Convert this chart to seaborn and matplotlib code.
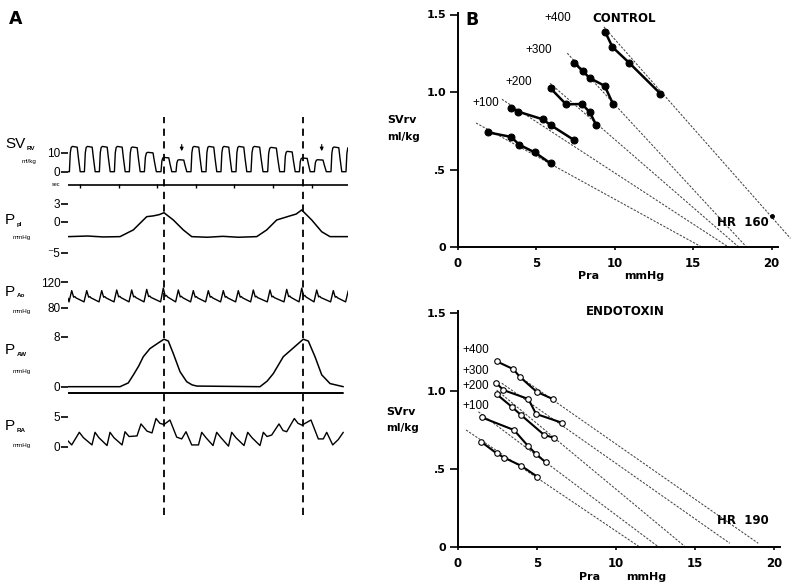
import matplotlib
matplotlib.use("Agg")
import matplotlib.pyplot as plt
import seaborn as sns

sns.set_theme(style="ticks")
plt.rcParams['font.family'] = ['Liberation Sans', 'DejaVu Sans']
plt.rcParams.update({"text.color": "black", "axes.labelcolor": "black",
                     "xtick.color": "black", "ytick.color": "black",
                     "axes.edgecolor": "black"})

# ------------------------------------------------------------------
# Panel A data (time in seconds, physical units)
# ------------------------------------------------------------------
T0, T1 = -0.311, 6.943
insp_t = [2.176, 5.777]                 # dashed lines (peak inspiration)
sec_ticks = [0, 1, 2, 3, 4, 5, 6]
sv_arrow_t = [2.635, 6.262]

beat_t = [-0.215, 0.174, 0.562, 0.951, 1.339, 1.728, 2.158, 2.547, 2.935,
          3.324, 3.712, 4.101, 4.490, 4.922, 5.355, 5.744, 6.132, 6.562, 6.951]
sv_top = [13.3, 13.3, 13.3, 13.3, 13.0, 10.2, 7.5, 6.3, 13.3, 13.3,
          13.3, 13.3, 13.3, 12.8, 10.7, 7.2, 6.3, 13.0, 13.0]
ao_peak = [107, 107, 107, 108, 108, 109, 111, 108, 107, 107,
           107, 107, 108, 108, 109, 111, 108, 107, 107]
ao_trough = 89

ppl_t = [-0.311, 0.2, 0.6, 1.036, 1.381, 1.728, 1.899, 2.05, 2.176, 2.417,
         2.676, 2.894, 3.3, 3.7, 4.1, 4.578, 4.837, 5.096, 5.44, 5.6,
         5.744, 6.003, 6.262, 6.477, 6.943]
ppl_v = [-2.4, -2.3, -2.45, -2.4, -1.3, 0.87, 1.0, 1.2, 1.52, 0.33,
         -1.3, -2.4, -2.5, -2.35, -2.5, -2.4, -1.3, 0.33, 1.0, 1.3,
         1.97, 0.33, -1.6, -2.4, -2.4]

aw_t = [-0.311, 1.036, 1.25, 1.381, 1.52, 1.640, 1.813, 2.028, 2.176, 2.288,
        2.417, 2.591, 2.764, 2.9, 3.023, 4.663, 4.85, 5.008, 5.267, 5.526,
        5.785, 5.915, 6.088, 6.262, 6.477, 6.821]
aw_v = [0.0, 0.0, 0.6, 1.87, 3.3, 4.8, 6.1, 7.0, 7.6, 7.3,
        5.3, 2.4, 0.8, 0.3, 0.1, 0.0, 0.9, 2.1, 4.8, 6.2,
        7.6, 7.3, 4.8, 1.9, 0.5, 0.0]
aw_ref = -0.96

ra_t = [-0.345, -0.215, -0.018, 0.09, 0.31, 0.389, 0.49, 0.70, 0.777, 0.88,
        1.09, 1.166, 1.27, 1.477, 1.58, 1.736, 1.865, 1.969, 2.07, 2.176,
        2.33, 2.505, 2.635, 2.746, 2.894, 3.07, 3.153, 3.264, 3.446, 3.541,
        3.653, 3.847, 3.93, 4.04, 4.249, 4.345, 4.456, 4.663, 4.749, 4.845,
        4.966, 5.155, 5.259, 5.355, 5.552, 5.648, 5.751, 5.984, 6.174, 6.303,
        6.391, 6.547, 6.692, 6.821]
ra_v = [1.2, 0.3, 2.4, 1.5, 0.3, 2.4, 1.5, 0.2, 2.4, 1.5,
        0.3, 2.5, 1.7, 1.8, 3.8, 2.6, 2.3, 4.7, 3.9, 3.7,
        4.45, 1.6, 1.3, 2.5, 0.3, 0.3, 2.4, 1.5, 0.2, 2.4,
        1.5, 0.1, 2.4, 1.5, 0.2, 2.4, 1.5, 0.2, 2.4, 1.7,
        1.95, 3.8, 2.7, 2.5, 4.7, 3.9, 3.6, 4.45, 1.3, 1.3,
        2.4, 0.3, 1.2, 2.4]

# ------------------------------------------------------------------
# Panel B data (Pra mmHg, SVrv ml/kg)
# ------------------------------------------------------------------
ctl_labels = ["", "+100", "+200", "+300", "+400"]
ctl_x = [[1.9, 3.4, 3.9, 4.9, 5.9],
         [3.4, 3.85, 5.4, 5.9, 7.4],
         [5.9, 6.9, 7.9, 8.4, 8.8],
         [7.4, 7.95, 8.4, 9.35, 9.9],
         [9.4, 9.85, 10.9, 12.9]]
ctl_y = [[0.74, 0.71, 0.66, 0.61, 0.54],
         [0.895, 0.873, 0.824, 0.787, 0.69],
         [1.024, 0.92, 0.923, 0.87, 0.79],
         [1.19, 1.135, 1.09, 1.04, 0.92],
         [1.385, 1.29, 1.19, 0.99]]
ctl_fit_x = [[1.15, 15.54], [2.8, 17.24], [5.87, 17.9], [6.97, 18.4], [9.3, 21.2]]
ctl_fit_y = [[0.80, 0.0], [0.953, 0.0], [1.056, 0.0], [1.25, 0.0], [1.42, 0.056]]
ctl_hr_pt = (20.0, 0.2)

end_x = [[1.46, 2.45, 2.93, 3.99, 5.02],
         [1.5, 3.54, 4.41, 4.94, 5.55],
         [2.45, 3.4, 3.99, 5.46, 6.08],
         [2.4, 2.87, 4.45, 4.94, 6.56],
         [2.45, 3.5, 3.92, 4.98, 6.03]]
end_y = [[0.675, 0.60, 0.572, 0.521, 0.451],
         [0.831, 0.75, 0.65, 0.596, 0.543],
         [0.979, 0.899, 0.846, 0.718, 0.70],
         [1.053, 1.006, 0.949, 0.853, 0.797],
         [1.19, 1.14, 1.09, 0.995, 0.947]]
end_fit_x = [[0.51, 11.5], [1.29, 12.7], [2.45, 14.4], [2.77, 17.2], [3.92, 19.0]]
end_fit_y = [[0.75, 0.0], [0.867, 0.0], [1.006, 0.0], [1.05, 0.024], [1.09, 0.024]]

b_xticks = [0, 5, 10, 15, 20]
b_yticks = [0, 0.5, 1.0, 1.5]
b_yticklabels = ["0", ".5", "1.0", "1.5"]

# ------------------------------------------------------------------
W, H = 800, 587
fig = plt.figure(figsize=(W / 100, H / 100), dpi=100)


def px_axes(x0, y0, x1, y1):
    return fig.add_axes([x0 / W, 1 - y1 / H, (x1 - x0) / W, (y1 - y0) / H])


def ftext(x, y, s, **kw):
    kw.setdefault("va", "center")
    fig.text(x / W, 1 - y / H, s, **kw)


# waveform builders (shape = drawing style, beat times / amplitudes = data)
SV_F = [0, 0.06, 0.12, 0.2, 0.52, 0.6, 0.72]
SV_K = [0, 0.75, 0.96, 1.0, 0.97, 0.55, 0.0]


def sv_trace():
    t, v = [T0], [0.0]
    for i, (tp, top) in enumerate(zip(beat_t, sv_top)):
        per = (beat_t[i + 1] - tp) if i + 1 < len(beat_t) else 0.39
        on = tp - 0.06
        for f, k in zip(SV_F, SV_K):
            t.append(on + f * per)
            v.append(k * top)
    return t, v


def ao_trace():
    t, v = [T0], [95.0]
    for tp, pk in zip(beat_t, ao_peak):
        amp = pk - ao_trough
        t += [tp - 0.07, tp, tp + 0.05, tp + 0.08, tp + 0.11]
        v += [ao_trough, pk, ao_trough + 0.42 * amp, ao_trough + 0.47 * amp,
              ao_trough + 0.36 * amp]
    return t, v


def trace_axes(y0, y1, ylo, yhi, ticks, ticklabels):
    ax = px_axes(68, y0, 348, y1)
    ax.set_xlim(T0, T1)
    ax.set_ylim(ylo, yhi)
    for s in ax.spines.values():
        s.set_visible(False)
    ax.set_xticks([])
    ax.set_yticks(ticks)
    ax.set_yticklabels(ticklabels)
    ax.tick_params(axis="y", direction="out", length=5, width=1.2, pad=0.5,
                   labelsize=8.5, colors="black")
    ax.set_facecolor("none")
    ax.set_xlabel("")
    ax.set_ylabel("")
    return ax


def draw_line(ax, x, y, **kw):
    kw.setdefault("color", "black")
    sns.lineplot(x=x, y=y, ax=ax, sort=False, estimator=None, legend=False,
                 **kw)


# ---------------- Panel A ----------------
ax_sv = trace_axes(140, 176, -2.26, 16.68, [0, 10], ["0", "10"])
st, sv = sv_trace()
draw_line(ax_sv, st, sv, lw=1.0)
for ta in sv_arrow_t:
    ax_sv.annotate("", xy=(ta, 10.8), xytext=(ta, 14.3),
                   arrowprops=dict(arrowstyle="-|>", color="black", lw=0.8,
                                   mutation_scale=5, shrinkA=0, shrinkB=0))

ax_sec = px_axes(68, 180, 348, 190)
ax_sec.set_xlim(T0, T1)
ax_sec.set_ylim(-1, 1)
ax_sec.axis("off")
draw_line(ax_sec, [T0, T1], [0, 0], lw=1.2)
ax_sec.plot(sec_ticks, [-0.25] * len(sec_ticks), ls="none", marker="|",
            ms=3, mew=1.0, color="black")

ax_pl = trace_axes(198, 258, -5.9, 3.93, [-5, 0, 3], ["\u207b5", "0", "3"])
draw_line(ax_pl, ppl_t, ppl_v, lw=1.1)

ax_ao = trace_axes(276, 312, 72.8, 130.4, [80, 120], ["80", "120"])
at, av = ao_trace()
draw_line(ax_ao, at, av, lw=1.0)

ax_aw = trace_axes(330, 396, -1.49, 9.07, [0, 8], ["0", "8"])
draw_line(ax_aw, aw_t, aw_v, lw=1.1)
draw_line(ax_aw, [T0, aw_t[-1]], [aw_ref, aw_ref], lw=1.4)

ax_ra = trace_axes(410, 452, -0.88, 6.12, [0, 5], ["0", "5"])
draw_line(ax_ra, ra_t, ra_v, lw=1.0)

ax_ov = px_axes(68, 110, 348, 525)
ax_ov.set_xlim(T0, T1)
ax_ov.set_ylim(0, 1)
ax_ov.axis("off")
for ti in insp_t:
    ax_ov.axvline(ti, ymin=0.024, ymax=0.983, color="black", lw=1.3,
                  dashes=(4, 3))

# Panel A labels
ftext(9, 19, "A", fontsize=12.5, fontweight="bold", family="DejaVu Sans")
ftext(5, 144, "SV", fontsize=11)
ftext(27, 148, "RV", fontsize=4.5, fontweight="bold")
ftext(22, 162, "ml/kg", fontsize=4.5)
ftext(52, 185, "sec", fontsize=4)
for yP, sub, yu in [(220, "pl", 238), (292, "Ao", 311), (350, "AW", 372),
                    (426, "RA", 446)]:
    ftext(5, yP, "P", fontsize=11)
    ftext(17, yP + 4, sub, fontsize=4.5, fontweight="bold")
    ftext(13, yu, "mmHg", fontsize=4.5)

# ---------------- Panel B ----------------
BOLD = dict(family="DejaVu Sans", fontweight="bold")


def panel_b(ax, xs, ys, fx, fy, filled):
    ax.set_xlim(0, 20.4)
    ax.set_ylim(0, 1.51)
    sns.despine(ax=ax)
    for side in ("left", "bottom"):
        ax.spines[side].set_linewidth(1.4)
        ax.spines[side].set_color("black")
    ax.set_xticks(b_xticks)
    ax.set_yticks(b_yticks)
    ax.set_yticklabels(b_yticklabels)
    ax.tick_params(axis="y", direction="out", length=5.5, width=1.2, pad=3,
                   labelsize=8, colors="black")
    ax.tick_params(axis="x", direction="out", length=2.5, width=1.2, pad=4.5,
                   labelsize=8.5, colors="black")
    for lab in ax.get_xticklabels() + ax.get_yticklabels():
        lab.set_family("DejaVu Sans")
        lab.set_fontweight("bold")
    for x2, y2 in zip(fx, fy):
        draw_line(ax, x2, y2, color="#444444", lw=0.75,
                  linestyle=(0, (2.2, 1.4)), clip_on=False)
    for x, y in zip(xs, ys):
        if filled:
            draw_line(ax, x, y, lw=1.8, marker="o", markersize=5,
                      markerfacecolor="black", markeredgecolor="black")
        else:
            draw_line(ax, x, y, lw=1.5, marker="o", markersize=4,
                      markerfacecolor="white", markeredgecolor="black",
                      markeredgewidth=0.8)
    ax.set_xlabel("")
    ax.set_ylabel("")
    ax.text(8.3, -0.19, "Pra", fontsize=8, ha="center", va="center",
            clip_on=False, **BOLD)
    ax.text(11.9, -0.19, "mmHg", fontsize=8, ha="center", va="center",
            clip_on=False, **BOLD)
    ax.text(-3.6, 0.82 if filled else 0.865, "SVrv", fontsize=8, ha="center",
            va="center", clip_on=False, **BOLD)
    ax.text(-3.5, 0.71 if filled else 0.76, "ml/kg", fontsize=7.5,
            ha="center", va="center", clip_on=False, **BOLD)


axT = px_axes(458, 247 - 1.51 * 155, 458 + 20.4 * 15.68, 247)
panel_b(axT, ctl_x, ctl_y, ctl_fit_x, ctl_fit_y, True)
axT.plot([ctl_hr_pt[0]], [ctl_hr_pt[1]], marker="o", ms=2.5, color="black")
axT.text(10.6, 1.475, "CONTROL", fontsize=8.5, ha="center", va="center", **BOLD)
axT.text(16.5, 0.16, "HR  160", fontsize=8.5, ha="left", va="center", **BOLD)
for lab, (lx, ly) in zip(ctl_labels[1:], [(0.9, 0.93), (3.0, 1.065),
                                          (4.3, 1.27), (5.5, 1.475)]):
    axT.text(lx, ly, lab, fontsize=8.5, ha="left", va="center")

axE = px_axes(458, 547 - 1.51 * 156, 458 + 20.4 * 15.8, 547)
panel_b(axE, end_x, end_y, end_fit_x, end_fit_y, False)
axE.text(10.6, 1.508, "ENDOTOXIN", fontsize=8.5, ha="center", va="center",
         **BOLD)
axE.text(16.4, 0.17, "HR  190", fontsize=8.5, ha="left", va="center", **BOLD)
for lab, ly in zip(ctl_labels[1:], [0.905, 1.035, 1.13, 1.26]):
    axE.text(0.3, ly, lab, fontsize=8.5, ha="left", va="center")

ftext(465, 20, "B", fontsize=12.5, fontweight="bold", family="DejaVu Sans")

fig.savefig("out.png", dpi=100)
